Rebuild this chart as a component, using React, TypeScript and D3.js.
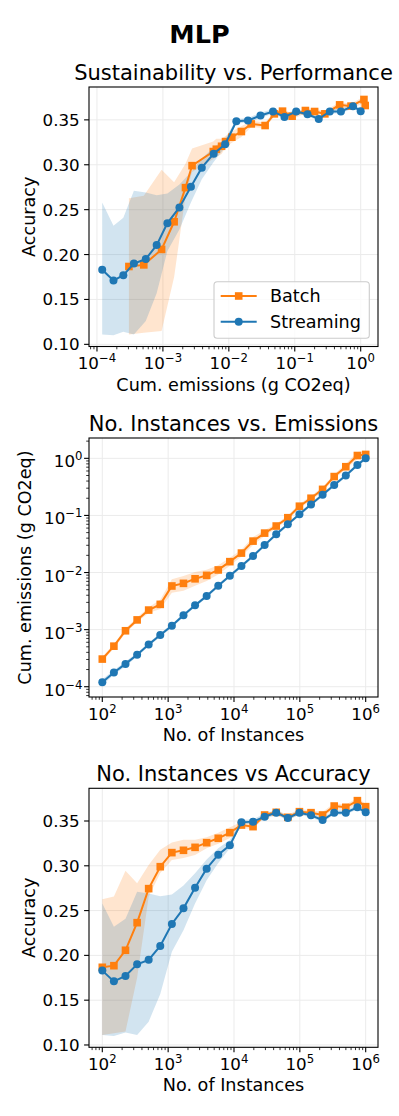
import React, { useRef, useEffect } from "react";
import * as d3 from "d3";

const W = 399;
const H = 1116;
const FONT = "DejaVu Sans, Verdana, sans-serif";
const BLUE = "#1f77b4";
const ORANGE = "#ff7f0e";

// number of instances seen (x of the two lower panels)
const instances = [100, 150, 225, 338, 506, 759, 1139, 1709, 2563, 3844, 5767, 8650, 12975, 19462,
  29193, 43789, 65684, 98526, 147789, 221684, 332526, 498789, 748183, 1000000];

// accuracy, batch
const batchAcc = [0.1867, 0.1885, 0.2057, 0.2365, 0.2745, 0.299, 0.3147, 0.3173, 0.3206, 0.3258, 0.3307, 0.337,
  0.3455, 0.3437, 0.3567, 0.3597, 0.3541, 0.3604, 0.3593, 0.3567, 0.3667, 0.3653, 0.3727, 0.366];
const batchAccLo = [0.111, 0.113, 0.115, 0.175, 0.2655, 0.292, 0.3065, 0.3087, 0.312, 0.3195, 0.3245, 0.331,
  0.342, 0.341, 0.354, 0.357, 0.351, 0.357, 0.357, 0.354, 0.363, 0.362, 0.369, 0.363];
const batchAccHi = [0.2626, 0.2656, 0.2945, 0.2805, 0.301, 0.318, 0.326, 0.329, 0.329, 0.332, 0.337, 0.343,
  0.349, 0.347, 0.359, 0.362, 0.357, 0.363, 0.362, 0.36, 0.37, 0.368, 0.376, 0.369];

// accuracy, streaming
const streamAcc = [0.183, 0.171, 0.177, 0.19, 0.195, 0.2105, 0.235, 0.2525, 0.2756, 0.2968, 0.3124, 0.3228,
  0.3485, 0.3493, 0.3548, 0.3593, 0.3533, 0.3593, 0.3563, 0.3511, 0.3593, 0.3593, 0.3653, 0.3597];
const streamAccLo = [0.111, 0.11, 0.114, 0.111, 0.126, 0.157, 0.204, 0.228, 0.258, 0.284, 0.303, 0.3195,
  0.346, 0.347, 0.352, 0.357, 0.351, 0.357, 0.354, 0.349, 0.357, 0.357, 0.363, 0.357];
const streamAccHi = [0.258, 0.232, 0.241, 0.271, 0.269, 0.266, 0.268, 0.278, 0.2916, 0.307, 0.3195, 0.3288,
  0.351, 0.352, 0.358, 0.362, 0.356, 0.362, 0.359, 0.354, 0.362, 0.362, 0.368, 0.362];

// cumulative emissions (g CO2eq)
const batchEm = [3.05e-4, 5.13e-4, 9.55e-4, 1.48e-3, 2.2e-3, 2.77e-3, 5.81e-3, 6.46e-3, 7.76e-3, 8.91e-3, 1.11e-2,
  1.55e-2, 2.19e-2, 3.55e-2, 4.9e-2, 6.52e-2, 9.12e-2, 0.145, 0.2, 0.286, 0.479, 0.713, 1.12, 1.17];
const streamEm = [1.2e-4, 1.78e-4, 2.51e-4, 3.63e-4, 5.5e-4, 8.04e-4, 1.17e-3, 1.78e-3, 2.66e-3, 3.89e-3, 5.89e-3,
  8.79e-3, 1.3e-2, 1.95e-2, 3.02e-2, 4.68e-2, 6.98e-2, 0.105, 0.156, 0.231, 0.34, 0.501, 0.764, 1.0];
// spread of the emissions band, in decades
const batchEmSpread = [0.04, 0.04, 0.04, 0.04, 0.05, 0.08, 0.12, 0.13, 0.12, 0.1, 0.08, 0.07,
  0.06, 0.07, 0.05, 0.04, 0.04, 0.04, 0.04, 0.04, 0.04, 0.05, 0.06, 0.06];
const streamEmSpread = [0.05, 0.04, 0.04, 0.03, 0.03, 0.03, 0.03, 0.03, 0.03, 0.03, 0.03, 0.03,
  0.03, 0.03, 0.03, 0.03, 0.03, 0.03, 0.03, 0.03, 0.03, 0.03, 0.03, 0.03];

const accTicks = [0.1, 0.15, 0.2, 0.25, 0.3, 0.35];
const seriesNames = ["Batch", "Streaming"];

const LEFT = 89;
const RIGHT = 378;
const TICK_FS = 16.7;
const LABEL_FS = 17.6;

const sup = (e) => (e < 0 ? "\u2212" + Math.abs(e) : String(e));

function logTicks(domain) {
  const a = Math.log10(domain[0]);
  const b = Math.log10(domain[1]);
  const majors = [];
  const minors = [];
  for (let e = Math.floor(a); e <= Math.ceil(b); e++) {
    if (e >= a - 1e-9 && e <= b + 1e-9) majors.push(e);
    for (let k = 2; k < 10; k++) {
      const m = Math.log10(k) + e;
      if (m >= a && m <= b) minors.push(k * Math.pow(10, e));
    }
  }
  return { majors, minors };
}

function marker(sel, s, px, py) {
  if (s.marker === "square") {
    sel.append("rect").attr("x", px - 3.8).attr("y", py - 3.8).attr("width", 7.6).attr("height", 7.6)
      .attr("fill", s.color);
  } else {
    sel.append("circle").attr("cx", px).attr("cy", py).attr("r", 4).attr("fill", s.color);
  }
}

function drawPanel(svg, cfg, idx) {
  const { top, bottom } = cfg;
  const g = svg.append("g");
  const x = d3.scaleLog().domain(cfg.xDomain).range([LEFT, RIGHT]);
  const y = cfg.yLog
    ? d3.scaleLog().domain(cfg.yDomain).range([bottom, top])
    : d3.scaleLinear().domain(cfg.yDomain).range([bottom, top]);

  const xt = logTicks(cfg.xDomain);
  const yt = cfg.yLog ? logTicks(cfg.yDomain) : null;

  // grid
  xt.majors.forEach(e => {
    g.append("line").attr("x1", x(10 ** e)).attr("x2", x(10 ** e)).attr("y1", top).attr("y2", bottom)
      .attr("stroke", "#ebebeb").attr("stroke-width", 1);
  });
  const yMajorVals = cfg.yLog ? yt.majors.map(e => 10 ** e) : accTicks;
  yMajorVals.forEach(v => {
    g.append("line").attr("x1", LEFT).attr("x2", RIGHT).attr("y1", y(v)).attr("y2", y(v))
      .attr("stroke", "#ebebeb").attr("stroke-width", 1);
  });

  const clipId = `clip-${idx}`;
  svg.append("defs").append("clipPath").attr("id", clipId)
    .append("rect").attr("x", LEFT).attr("y", top).attr("width", RIGHT - LEFT).attr("height", bottom - top);
  const plot = g.append("g").attr("clip-path", `url(#${clipId})`);

  // bands
  cfg.series.forEach(s => {
    const pts = s.xs.map((xv, i) => ({ x: xv, lo: s.lo[i], hi: s.hi[i] }));
    plot.append("path")
      .attr("d", d3.area().x(d => x(d.x)).y0(d => y(d.lo)).y1(d => y(d.hi))(pts))
      .attr("fill", s.color).attr("fill-opacity", 0.2).attr("stroke", "none");
  });

  // lines and markers
  cfg.series.forEach(s => {
    const pts = s.xs.map((xv, i) => [x(xv), y(s.ys[i])]);
    plot.append("path").attr("d", d3.line()(pts)).attr("fill", "none")
      .attr("stroke", s.color).attr("stroke-width", 2);
    pts.forEach(([px, py]) => marker(plot, s, px, py));
  });

  // spines
  g.append("rect").attr("x", LEFT).attr("y", top).attr("width", RIGHT - LEFT).attr("height", bottom - top)
    .attr("fill", "none").attr("stroke", "#000").attr("stroke-width", 1.1);

  // x ticks
  xt.majors.forEach(e => {
    const px = x(10 ** e);
    g.append("line").attr("x1", px).attr("x2", px).attr("y1", bottom).attr("y2", bottom + 4.9)
      .attr("stroke", "#000").attr("stroke-width", 1.1);
    const t = g.append("text").attr("x", px).attr("y", bottom + 22.5).attr("text-anchor", "middle")
      .attr("font-family", FONT).attr("font-size", TICK_FS);
    t.append("tspan").text("10");
    t.append("tspan").attr("dy", -7).attr("font-size", 11.7).text(sup(e));
  });
  xt.minors.forEach(v => {
    g.append("line").attr("x1", x(v)).attr("x2", x(v)).attr("y1", bottom).attr("y2", bottom + 2.8)
      .attr("stroke", "#000").attr("stroke-width", 0.8);
  });

  // y ticks
  if (cfg.yLog) {
    yt.majors.forEach(e => {
      const py = y(10 ** e);
      g.append("line").attr("x1", LEFT - 4.9).attr("x2", LEFT).attr("y1", py).attr("y2", py)
        .attr("stroke", "#000").attr("stroke-width", 1.1);
      const t = g.append("text").attr("x", LEFT - 6.5).attr("y", py + 9).attr("text-anchor", "end")
        .attr("font-family", FONT).attr("font-size", TICK_FS);
      t.append("tspan").text("10");
      t.append("tspan").attr("dy", -7).attr("font-size", 11.7).text(sup(e));
    });
    yt.minors.forEach(v => {
      g.append("line").attr("x1", LEFT - 2.8).attr("x2", LEFT).attr("y1", y(v)).attr("y2", y(v))
        .attr("stroke", "#000").attr("stroke-width", 0.8);
    });
  } else {
    accTicks.forEach(v => {
      const py = y(v);
      g.append("line").attr("x1", LEFT - 4.9).attr("x2", LEFT).attr("y1", py).attr("y2", py)
        .attr("stroke", "#000").attr("stroke-width", 1.1);
      g.append("text").attr("x", LEFT - 9.3).attr("y", py + 6).attr("text-anchor", "end")
        .attr("font-family", FONT).attr("font-size", TICK_FS).text(d3.format(".2f")(v));
    });
  }

  // title and labels
  g.append("text").attr("x", (LEFT + RIGHT) / 2).attr("y", top - 7).attr("text-anchor", "middle")
    .attr("font-family", FONT).attr("font-size", 21).text(cfg.title);
  g.append("text").attr("x", (LEFT + RIGHT) / 2).attr("y", bottom + 44).attr("text-anchor", "middle")
    .attr("font-family", FONT).attr("font-size", LABEL_FS).text(cfg.xlabel);
  g.append("text")
    .attr("transform", `translate(${cfg.ylabelX},${(top + bottom) / 2}) rotate(-90)`)
    .attr("text-anchor", "middle").attr("font-family", FONT).attr("font-size", LABEL_FS).text(cfg.ylabel);

  // legend
  if (cfg.legend) {
    const lw = 155.3;
    const lh = 56.6;
    const lx = RIGHT - 8.7 - lw;
    const ly = bottom - 8.2 - lh;
    g.append("rect").attr("x", lx).attr("y", ly).attr("width", lw).attr("height", lh).attr("rx", 3.3)
      .attr("fill", "#fff").attr("fill-opacity", 0.8).attr("stroke", "#cccccc").attr("stroke-width", 1.1);
    cfg.series.forEach((s, i) => {
      const ry = ly + 14.3 + i * 25.7;
      g.append("line").attr("x1", lx + 6.7).attr("x2", lx + 42.7).attr("y1", ry).attr("y2", ry)
        .attr("stroke", s.color).attr("stroke-width", 2);
      marker(g, s, lx + 24.7, ry);
      g.append("text").attr("x", lx + 56).attr("y", ry + 6.3).attr("font-family", FONT).attr("font-size", LABEL_FS)
        .text(seriesNames[i]);
    });
  }
}

const App = () => {
  const svgRef = useRef();

  useEffect(() => {
    const svg = d3.select(svgRef.current);
    svg.selectAll("*").remove();

    svg.append("rect").attr("width", W).attr("height", H).attr("fill", "#fff");
    svg.append("text").attr("x", W / 2).attr("y", 42.7).attr("text-anchor", "middle")
      .attr("font-family", FONT).attr("font-weight", "bold").attr("font-size", 25.5).text("MLP");

    const emBand = (em, spread, sign) => em.map((v, i) => v * Math.pow(10, sign * spread[i]));

    const panels = [
      {
        top: 87, bottom: 346.5,
        xDomain: [Math.pow(10, -4.121), Math.pow(10, 0.2625)],
        yDomain: [0.0976, 0.3866], yLog: false,
        title: "Sustainability vs. Performance",
        xlabel: "Cum. emissions (g CO2eq)", ylabel: "Accuracy", ylabelX: 35,
        legend: true,
        series: [
          { xs: batchEm, ys: batchAcc, lo: batchAccLo, hi: batchAccHi, color: ORANGE, marker: "square" },
          { xs: streamEm, ys: streamAcc, lo: streamAccLo, hi: streamAccHi, color: BLUE, marker: "circle" },
        ],
      },
      {
        top: 438, bottom: 697,
        xDomain: [Math.pow(10, 1.798), Math.pow(10, 6.187)],
        yDomain: [Math.pow(10, -4.18), Math.pow(10, 0.356)], yLog: true,
        title: "No. Instances vs. Emissions",
        xlabel: "No. of Instances", ylabel: "Cum. emissions (g CO2eq)", ylabelX: 31,
        legend: false,
        series: [
          { xs: instances, ys: batchEm, lo: emBand(batchEm, batchEmSpread, -1), hi: emBand(batchEm, batchEmSpread, 1), color: ORANGE, marker: "square" },
          { xs: instances, ys: streamEm, lo: emBand(streamEm, streamEmSpread, -1), hi: emBand(streamEm, streamEmSpread, 1), color: BLUE, marker: "circle" },
        ],
      },
      {
        top: 788.3, bottom: 1047.3,
        xDomain: [Math.pow(10, 1.798), Math.pow(10, 6.187)],
        yDomain: [0.0974, 0.3865], yLog: false,
        title: "No. Instances vs Accuracy",
        xlabel: "No. of Instances", ylabel: "Accuracy", ylabelX: 35,
        legend: false,
        series: [
          { xs: instances, ys: batchAcc, lo: batchAccLo, hi: batchAccHi, color: ORANGE, marker: "square" },
          { xs: instances, ys: streamAcc, lo: streamAccLo, hi: streamAccHi, color: BLUE, marker: "circle" },
        ],
      },
    ];

    panels.forEach((p, i) => drawPanel(svg, p, i));
  }, []);

  return (
    <div>
      <style>{`body { margin: 0; }`}</style>
      <svg ref={svgRef} width={W} height={H} style={{ display: "block" }}></svg>
    </div>
  );
};

export default App;
